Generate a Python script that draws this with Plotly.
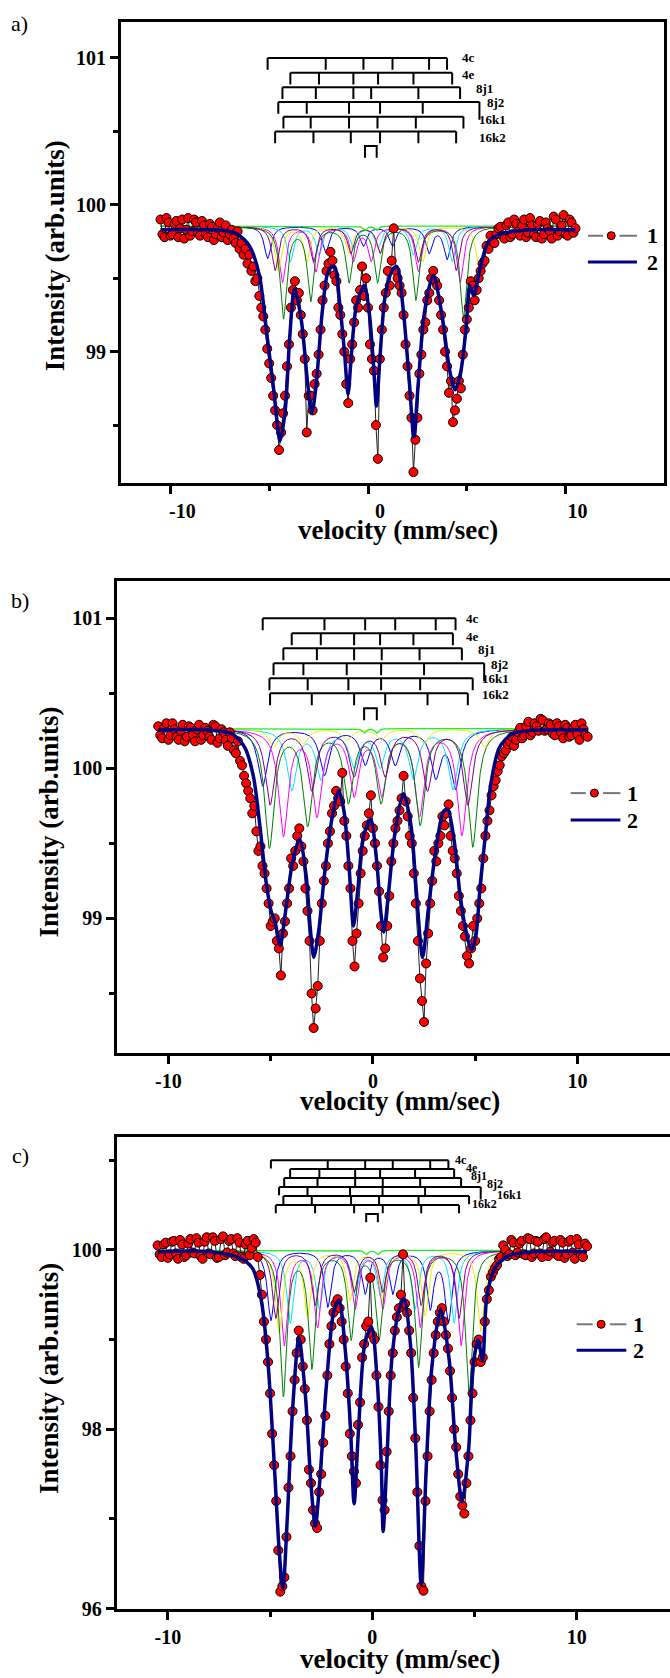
import numpy as np
import plotly.graph_objects as go

# ---------------- data ----------------
# channel velocities, mm/s: even channels at -10.5,-10.3,...,10.5 ; odd channels at -10.4,...,10.4
V_CHANNELS = np.round(np.linspace(-10.5, 10.5, 211), 2)

DATA_A_EVEN = [99.90, 99.78, 99.88, 99.80, 99.89, 99.84, 99.77, 99.91, 99.82, 99.88,
               99.79, 99.86, 99.78, 99.85, 99.80, 99.88, 99.81, 99.76, 99.83, 99.74,
               99.70, 99.66, 99.60, 99.55, 99.48, 99.38, 99.24, 99.02, 98.82, 98.60,
               98.33, 98.58, 98.90, 99.30, 99.48, 99.40, 99.12, 98.45, 98.70, 98.78,
               98.98, 99.35, 99.55, 99.68, 99.52, 99.30, 99.12, 98.78, 98.95, 99.20,
               99.30, 99.58, 99.50, 99.05, 98.87, 98.27, 99.15, 99.40, 99.45, 99.84,
               99.50, 99.40, 99.05, 98.70, 98.18, 98.55, 98.98, 99.20, 99.40, 99.55,
               99.45, 99.25, 99.00, 98.72, 98.52, 98.68, 98.75, 99.15, 99.30, 99.45,
               99.42, 99.55, 99.62, 99.70, 99.75, 99.80, 99.85, 99.77, 99.88, 99.80,
               99.87, 99.79, 99.90, 99.81, 99.86, 99.78, 99.89, 99.80, 99.84, 99.77,
               99.90, 99.82, 99.93, 99.79, 99.88, 99.84]
DATA_A_ODD = [99.80, 99.91, 99.79, 99.87, 99.78, 99.90, 99.83, 99.79, 99.90, 99.81,
              99.89, 99.80, 99.87, 99.76, 99.84, 99.78, 99.86, 99.80, 99.77, 99.82,
              99.74, 99.70, 99.66, 99.58, 99.50, 99.30, 99.15, 98.92, 98.70, 98.50,
              98.45, 98.70, 99.05, 99.42, 99.35, 99.25, 98.95, 98.70, 98.60, 98.85,
              99.15, 99.45, 99.60, 99.62, 99.48, 99.25, 99.00, 98.65, 99.05, 99.35,
              99.42, 99.38, 99.30, 98.95, 98.50, 98.95, 99.30, 99.55, 99.62, 99.55,
              99.45, 99.25, 98.90, 98.55, 98.40, 98.85, 99.15, 99.35, 99.50, 99.48,
              99.35, 99.15, 98.90, 98.80, 98.60, 98.80, 98.98, 99.22, 99.48, 99.35,
              99.50, 99.60, 99.72, 99.79, 99.74, 99.84, 99.79, 99.86, 99.78, 99.90,
              99.82, 99.86, 99.78, 99.91, 99.80, 99.87, 99.77, 99.88, 99.82, 99.92,
              99.79, 99.86, 99.80, 99.90, 99.81]

DATA_B_EVEN = [100.28, 100.20, 100.30, 100.22, 100.26, 100.19, 100.29, 100.21, 100.27, 100.18,
               100.29, 100.22, 100.25, 100.19, 100.28, 100.20, 100.24, 100.15, 100.20, 100.10,
               100.05, 99.95, 99.85, 99.70, 99.58, 99.48, 99.30, 99.10, 98.98, 98.85,
               98.62, 98.98, 99.20, 99.35, 99.55, 99.48, 99.20, 98.85, 98.27, 98.55,
               99.10, 99.35, 99.58, 99.75, 99.80, 99.97, 99.55, 99.20, 98.68, 99.10,
               99.45, 99.62, 99.82, 99.50, 99.18, 98.74, 98.95, 99.38, 99.60, 99.72,
               99.95, 99.68, 99.50, 99.10, 98.60, 98.31, 98.90, 99.25, 99.38, 99.55,
               99.62, 99.76, 99.45, 99.30, 99.05, 98.88, 98.70, 98.95, 99.00, 99.20,
               99.55, 99.72, 99.88, 99.98, 100.08, 100.12, 100.18, 100.15, 100.24, 100.20,
               100.28, 100.22, 100.30, 100.25, 100.32, 100.26, 100.29, 100.22, 100.28, 100.20,
               100.27, 100.22, 100.29, 100.19, 100.26, 100.21]
DATA_B_ODD = [100.22, 100.27, 100.19, 100.30, 100.21, 100.25, 100.18, 100.28, 100.22, 100.26,
              100.19, 100.27, 100.21, 100.29, 100.17, 100.26, 100.19, 100.24, 100.12, 100.18,
              100.02, 99.90, 99.80, 99.75, 99.45, 99.35, 99.20, 98.95, 99.00, 98.80,
              98.90, 99.10, 99.40, 99.45, 99.60, 99.38, 99.05, 98.50, 98.40, 98.85,
              99.25, 99.50, 99.70, 99.85, 99.78, 99.65, 99.35, 98.85, 98.90, 99.30,
              99.55, 99.70, 99.60, 99.35, 98.95, 98.80, 99.15, 99.50, 99.65, 99.80,
              99.78, 99.55, 99.30, 98.85, 98.45, 98.70, 99.10, 99.45, 99.50, 99.68,
              99.70, 99.55, 99.40, 99.15, 98.95, 98.75, 98.80, 98.85, 99.10, 99.40,
              99.65, 99.82, 99.92, 100.02, 100.10, 100.16, 100.21, 100.19, 100.27, 100.22,
              100.31, 100.24, 100.28, 100.33, 100.25, 100.30, 100.23, 100.30, 100.24, 100.29,
              100.21, 100.27, 100.23, 100.30, 100.22]

DATA_C_EVEN = [100.05, 99.92, 100.08, 99.95, 100.10, 99.90, 100.06, 99.94, 100.12, 99.96,
               100.08, 99.90, 100.14, 99.95, 100.10, 99.92, 100.15, 99.97, 100.12, 99.93,
               100.08, 99.90, 100.10, 100.02, 100.08, 99.72, 99.20, 98.75, 97.95, 97.20,
               96.19, 96.35, 97.35, 98.20, 98.85, 99.00, 98.45, 97.55, 97.10, 96.90,
               97.50, 98.15, 98.95, 99.30, 99.45, 99.20, 98.70, 97.95, 97.53, 98.05,
               98.80, 99.15, 99.69, 99.00, 98.25, 97.21, 97.75, 98.60, 99.10, 99.35,
               99.95, 99.30, 98.85, 97.90, 96.70, 96.20, 97.70, 98.55, 99.05, 99.30,
               99.20, 98.90, 98.35, 97.80, 97.25, 97.06, 97.70, 98.40, 98.95, 98.75,
               99.20, 99.55, 99.75, 99.83, 99.92, 100.00, 99.95, 100.08, 99.97, 100.10,
               99.94, 100.12, 99.96, 100.09, 99.92, 100.14, 99.98, 100.10, 99.93, 100.08,
               99.95, 100.11, 99.90, 100.06, 99.92, 100.04]
DATA_C_ODD = [99.95, 100.06, 99.91, 100.09, 99.96, 100.11, 99.92, 100.07, 99.97, 100.13,
              99.93, 100.09, 99.96, 100.14, 99.91, 100.12, 99.94, 100.10, 99.96, 100.13,
              99.92, 100.06, 99.94, 100.12, 99.92, 99.50, 99.00, 98.40, 97.60, 96.65,
              96.25, 96.80, 97.70, 98.55, 99.10, 98.70, 98.10, 97.40, 96.95, 97.30,
              97.85, 98.60, 99.15, 99.40, 99.35, 99.00, 98.40, 97.70, 97.40, 98.30,
              98.95, 99.20, 99.05, 98.60, 97.60, 97.10, 98.20, 98.85, 99.25, 99.50,
              99.40, 99.10, 98.35, 97.30, 96.25, 97.20, 98.20, 98.85, 99.20, 99.35,
              99.05, 98.65, 98.00, 97.50, 97.15, 97.40, 98.10, 98.75, 99.00, 98.80,
              99.45, 99.70, 99.80, 99.90, 100.05, 99.93, 100.11, 99.94, 100.07, 99.95,
              100.13, 99.92, 100.10, 99.96, 100.12, 99.93, 100.08, 99.95, 100.11, 99.91,
              100.09, 99.97, 100.12, 99.94, 100.07]

FIT_A_V = [-10.5, -8.0, -7.0, -6.6, -6.0, -5.5, -5.1, -4.77, -4.45, -4.19,
           -3.96, -3.72, -3.38, -3.05, -2.84, -2.62, -2.3, -1.98, -1.7, -1.44,
           -1.18, -1.01, -0.84, -0.58, -0.19, 0.06, 0.28, 0.43, 0.6, 0.88,
           1.25, 1.46, 1.78, 2.1, 2.32, 2.54, 2.86, 3.3, 3.72, 4.15,
           4.41, 4.69, 4.97, 5.15, 5.35, 5.66, 6.1, 6.7, 8.2, 10.5]
FIT_A_Y = [99.83, 99.83, 99.82, 99.80, 99.72, 99.52, 99.10, 98.74, 98.39, 98.60,
           99.10, 99.43, 99.22, 98.78, 98.58, 98.78, 99.29, 99.56, 99.58, 99.34,
           98.98, 98.71, 98.98, 99.32, 99.45, 99.27, 98.91, 98.63, 98.95, 99.39,
           99.56, 99.58, 99.29, 98.78, 98.42, 98.78, 99.27, 99.52, 99.27, 98.86,
           98.74, 98.86, 99.17, 99.45, 99.38, 99.56, 99.75, 99.80, 99.83, 99.83]

FIT_B_V = [-10.5, -8.0, -6.9, -6.27, -5.85, -5.53, -5.22, -4.96, -4.79, -4.54,
           -4.27, -3.95, -3.59, -3.27, -3.06, -2.89, -2.64, -2.37, -2.01, -1.67,
           -1.41, -1.16, -0.95, -0.74, -0.46, -0.11, 0.17, 0.38, 0.53, 0.74,
           1.08, 1.5, 1.86, 2.13, 2.43, 2.7, 3.02, 3.44, 3.65, 3.97,
           4.25, 4.5, 4.82, 5.03, 5.24, 5.51, 5.77, 6.19, 6.82, 8.1, 10.5]
FIT_B_Y = [100.255, 100.255, 100.23, 100.14, 99.95, 99.62, 99.24, 99.04, 98.98, 98.82,
           99.05, 99.36, 99.53, 99.29, 98.93, 98.74, 98.93, 99.29, 99.66, 99.85,
           99.71, 99.33, 98.95, 99.19, 99.55, 99.66, 99.40, 99.05, 98.91, 99.14,
           99.57, 99.83, 99.62, 99.17, 98.74, 99.05, 99.40, 99.71, 99.73, 99.52,
           99.17, 98.95, 98.79, 98.88, 99.21, 99.57, 99.90, 100.14, 100.23, 100.255, 100.255]

FIT_C_V = [-10.5, -8.0, -6.48, -5.85, -5.43, -5.11, -4.79, -4.54, -4.37, -4.16,
           -3.91, -3.59, -3.27, -3.0, -2.79, -2.58, -2.26, -1.88, -1.63, -1.31,
           -1.06, -0.89, -0.68, -0.36, -0.04, 0.23, 0.44, 0.53, 0.70, 0.95,
           1.29, 1.54, 1.86, 2.13, 2.39, 2.64, 2.91, 3.34, 3.76, 4.08,
           4.39, 4.71, 4.92, 5.17, 5.39, 5.6, 5.98, 6.61, 8.09, 10.5]
FIT_C_Y = [99.98, 99.98, 99.91, 99.79, 99.44, 98.77, 97.59, 96.60, 96.23, 97.00,
           98.18, 99.02, 98.37, 97.39, 96.92, 97.39, 98.45, 99.32, 99.44, 98.85,
           97.98, 97.17, 97.98, 98.96, 99.14, 98.57, 97.59, 96.86, 97.59, 98.77,
           99.32, 99.46, 98.96, 97.78, 96.27, 97.59, 98.69, 99.34, 98.77, 97.78,
           97.19, 97.78, 98.69, 99.00, 98.77, 99.48, 99.79, 99.93, 99.98, 99.98]

SITES = ["4c", "4e", "8j1", "8j2", "16k1", "16k2"]

LINES_A = [[-5.08, -2.14, -0.23, 1.24, 3.09, 4.00],
           [-3.93, -2.48, -0.74, 0.51, 2.30, 4.26],
           [-4.33, -2.64, -0.74, 0.16, 2.55, 4.66],
           [-4.54, -3.10, -0.96, 0.61, 2.77, 5.64],
           [-4.28, -2.90, -0.96, 0.48, 2.42, 4.83],
           [-4.70, -2.76, -0.87, 0.61, 2.55, 4.46]]
LINES_B = [[-5.39, -2.37, -0.38, 1.09, 3.07, 4.04],
           [-3.97, -2.55, -0.92, 0.35, 1.98, 3.91],
           [-4.38, -2.74, -0.92, 0.43, 2.28, 4.35],
           [-4.86, -3.40, -1.28, 0.40, 2.50, 5.44],
           [-5.06, -3.19, -1.20, 0.40, 2.31, 4.88],
           [-5.03, -2.99, -0.92, 0.60, 2.67, 4.64]]
LINES_C = [[-4.96, -2.18, -0.35, 1.00, 2.83, 3.72],
           [-4.02, -2.59, -0.84, 0.38, 2.09, 4.00],
           [-4.31, -2.68, -0.84, 0.51, 2.34, 4.34],
           [-4.56, -3.17, -1.09, 0.50, 2.58, 5.30],
           [-4.35, -2.96, -1.04, 0.33, 2.26, 4.73],
           [-4.72, -2.80, -0.89, 0.51, 2.39, 4.24]]
DOUBLET_A = [-0.15, 0.44]
DOUBLET_B = [-0.43, 0.19]
DOUBLET_C = [-0.30, 0.27]

REL_INT = [1.0, 0.8, 0.6, 0.6, 0.8, 1.0]
DEPTH_A = [0.22, 0.24, 0.38, 0.30, 0.62, 0.30]
DEPTH_B = [0.38, 0.40, 0.70, 0.12, 0.78, 0.50]
DEPTH_C = [0.78, 0.80, 1.05, 0.90, 1.60, 0.75]
DOUBLET_DEPTH = [0.03, 0.03, 0.05]
HWHM = [0.20, 0.28, 0.20]
BASELINE = [99.855, 100.265, 99.995]

ROW_LEVELS = [101.0, 100.9, 100.8, 100.7, 100.6, 100.5]
DOUBLET_LEVEL = 100.4

X_TICKS = [-10, 0, 10]
X_TICK_TEXT = ["-10", "0", "10"]

# ---------------- styling / layout ----------------
W, H = 670, 1678
FONT = "Liberation Serif"
COMP_COLORS = ["#0000ff", "#00e5ff", "#ff00ff", "#eeee00", "#008000", "#800080"]
DOUBLET_COLOR = "#22ee22"
FIT_COLOR = "#000080"


def px_x(p):
    return p / W


def px_y(p):
    return 1 - p / H


def interleave(even, odd):
    out = np.empty(len(even) + len(odd))
    out[0::2] = even
    out[1::2] = odd
    return out


PANELS = [
    dict(label="a)", data=interleave(DATA_A_EVEN, DATA_A_ODD), fv=FIT_A_V, fy=FIT_A_Y,
         lines=LINES_A, dbl=DOUBLET_A, depth=DEPTH_A, idx=0,
         xdom=[121 / W, 664 / W], xr=[-12.5, 14.98],
         ydom=[px_y(486), px_y(21.7)], yr=[98.107, 101.248], ydt=1, ymin=0.5, y0=99,
         tlen=0.08, lab_size=13, shift=12, ymirror=True,
         labpos=[(4.67, 101.0), (4.67, 100.89), (5.34, 100.79), (5.93, 100.70), (5.51, 100.58), (5.51, 100.46)],
         leg=dict(x0=11.13, x1=13.61, xm=12.31, xt=14.0, y1=99.79, y2=99.61),
         title_xy=(398, 534), ytitle_xy=(55, 258), plab_xy=(19.5, 24)),
    dict(label="b)", data=interleave(DATA_B_EVEN, DATA_B_ODD), fv=FIT_B_V, fy=FIT_B_Y,
         lines=LINES_B, dbl=DOUBLET_B, depth=DEPTH_B, idx=1,
         xdom=[117.3 / W, 1.0], xr=[-12.5, -12.5 + (W - 117.3) / 20.45],
         ydom=[px_y(1060), px_y(585)], yr=[98.103, 101.247], ydt=1, ymin=0.5, y0=99,
         tlen=0.08, lab_size=13, shift=0, ymirror=False,
         labpos=[(4.43, 101.0), (4.43, 100.88), (5.05, 100.79), (5.70, 100.69), (5.24, 100.60), (5.24, 100.49)],
         leg=dict(x0=9.67, x1=12.10, xm=10.83, xt=12.31, y1=99.835, y2=99.655),
         title_xy=(400, 1108), ytitle_xy=(49, 828), plab_xy=(20, 604)),
    dict(label="c)", data=interleave(DATA_C_EVEN, DATA_C_ODD), fv=FIT_C_V, fy=FIT_C_Y,
         lines=LINES_C, dbl=DOUBLET_C, depth=DEPTH_C, idx=2,
         xdom=[116.7 / W, 1.0], xr=[-12.5, -12.5 + (W - 116.7) / 20.45],
         ydom=[px_y(1619.3), px_y(1144.3)], yr=[96.0, 101.26], ydt=2, ymin=1, y0=96,
         tlen=0.092, lab_size=12, shift=0, ymirror=False,
         labpos=[(3.93, 101.0), (4.46, 100.91), (4.75, 100.82), (5.52, 100.73), (6.0, 100.61), (4.78, 100.51)],
         leg=dict(x0=9.99, x1=12.42, xm=11.19, xt=12.63, y1=99.17, y2=98.88),
         title_xy=(400, 1670), ytitle_xy=(49, 1388), plab_xy=(20, 1163)),
]

V_FINE = np.linspace(-10.5, 10.5, 2101)


def sextet(v, pos, depth, g):
    s = np.zeros_like(v)
    for p, r in zip(pos, REL_INT):
        s += depth * r * g ** 2 / ((v - p) ** 2 + g ** 2)
    return s


fig = go.Figure()
annotations = []
layout_axes = {}

for P in PANELS:
    i = P["idx"]
    sfx = "" if i == 0 else str(i + 1)
    xa, ya = "x" + sfx, "y" + sfx
    base = BASELINE[i]
    g = HWHM[i]

    # component subspectra
    for c, (pos, dep) in enumerate(zip(P["lines"], P["depth"])):
        fig.add_trace(go.Scatter(x=V_FINE, y=base - sextet(V_FINE, pos, dep, g), mode="lines",
                                 line=dict(color=COMP_COLORS[c], width=1), xaxis=xa, yaxis=ya,
                                 hoverinfo="skip"))
    dbl = np.zeros_like(V_FINE)
    for p in P["dbl"]:
        dbl += DOUBLET_DEPTH[i] * 0.1 ** 2 / ((V_FINE - p) ** 2 + 0.1 ** 2)
    fig.add_trace(go.Scatter(x=V_FINE, y=base - dbl, mode="lines",
                             line=dict(color=DOUBLET_COLOR, width=1.3), xaxis=xa, yaxis=ya,
                             hoverinfo="skip"))

    # experimental points
    fig.add_trace(go.Scatter(x=V_CHANNELS, y=P["data"], mode="lines+markers",
                             line=dict(color="#222222", width=1),
                             marker=dict(symbol="circle", size=9, color="#ff0000",
                                         line=dict(color="black", width=1)),
                             xaxis=xa, yaxis=ya))
    # fit
    fig.add_trace(go.Scatter(x=P["fv"], y=P["fy"], mode="lines",
                             line=dict(color=FIT_COLOR, width=3.5, shape="spline", smoothing=0.8),
                             xaxis=xa, yaxis=ya))

    # stick diagrams
    xs, ys = [], []
    for r, pos in enumerate(P["lines"]):
        lvl = ROW_LEVELS[r]
        xs += [pos[0], pos[-1], None]
        ys += [lvl, lvl, None]
        for j, p in enumerate(pos):
            L = P["tlen"] * (1.5 if (SITES[r] == "8j2" and j == len(pos) - 1) else 1.0)
            xs += [p, p, None]
            ys += [lvl, lvl - L, None]
    d0, d1 = P["dbl"]
    xs += [d0, d0, d1, d1, None]
    ys += [DOUBLET_LEVEL - P["tlen"], DOUBLET_LEVEL, DOUBLET_LEVEL, DOUBLET_LEVEL - P["tlen"], None]
    fig.add_trace(go.Scatter(x=xs, y=ys, mode="lines", line=dict(color="black", width=2),
                             xaxis=xa, yaxis=ya, hoverinfo="skip"))
    for r, (lx, ly) in enumerate(P["labpos"]):
        annotations.append(dict(x=lx, y=ly, xref=xa, yref=ya, text="<b>%s</b>" % SITES[r],
                                showarrow=False, xanchor="left", yanchor="middle",
                                font=dict(family=FONT, size=P["lab_size"], color="black")))

    # legend (drawn by hand)
    lg = P["leg"]
    gap = 0.42
    fig.add_trace(go.Scatter(x=[lg["x0"], lg["xm"] - gap, None, lg["xm"] + gap, lg["x1"]],
                             y=[lg["y1"], lg["y1"], None, lg["y1"], lg["y1"]], mode="lines",
                             line=dict(color="#777777", width=2), xaxis=xa, yaxis=ya,
                             hoverinfo="skip"))
    fig.add_trace(go.Scatter(x=[lg["xm"]], y=[lg["y1"]], mode="markers",
                             marker=dict(size=8, color="#ff0000", line=dict(color="black", width=1)),
                             xaxis=xa, yaxis=ya, hoverinfo="skip"))
    fig.add_trace(go.Scatter(x=[lg["x0"], lg["x1"]], y=[lg["y2"], lg["y2"]], mode="lines",
                             line=dict(color=FIT_COLOR, width=3), xaxis=xa, yaxis=ya,
                             hoverinfo="skip"))
    for txt, yy in (("1", lg["y1"]), ("2", lg["y2"])):
        annotations.append(dict(x=lg["xt"], y=yy, xref=xa, yref=ya, text="<b>%s</b>" % txt,
                                showarrow=False, xanchor="left", yanchor="middle",
                                font=dict(family=FONT, size=22, color="black")))

    # titles and panel letter
    tx, ty = P["title_xy"]
    annotations.append(dict(x=px_x(tx), y=px_y(ty), xref="paper", yref="paper",
                            text="<b>velocity (mm/sec)</b>", showarrow=False,
                            xanchor="center", yanchor="middle",
                            font=dict(family=FONT, size=27, color="black")))
    yx, yy = P["ytitle_xy"]
    annotations.append(dict(x=px_x(yx), y=px_y(yy), xref="paper", yref="paper",
                            text="<b>Intensity (arb.units)</b>", showarrow=False, textangle=-90,
                            xanchor="center", yanchor="middle",
                            font=dict(family=FONT, size=27, color="black")))
    lx, ly = P["plab_xy"]
    annotations.append(dict(x=px_x(lx), y=px_y(ly), xref="paper", yref="paper",
                            text=P["label"], showarrow=False, xanchor="center", yanchor="middle",
                            font=dict(family=FONT, size=22, color="black")))

    tickfont = dict(family=FONT, size=20, color="black", weight="bold")
    xkey = "xaxis" + sfx
    ykey = "yaxis" + sfx
    layout_axes[xkey] = dict(domain=P["xdom"], range=P["xr"], anchor=ya, showline=True, linewidth=3,
                             linecolor="black", mirror=True, ticks="outside", ticklen=8, tickwidth=3,
                             tickcolor="black", tickmode="array", tickvals=X_TICKS,
                             ticktext=X_TICK_TEXT,
                             showgrid=False, zeroline=False, tickfont=tickfont,
                             ticklabelshift=P["shift"],
                             minor=dict(ticks="outside", ticklen=5, tickwidth=2.5, tickcolor="black",
                                        tickmode="linear", dtick=5, tick0=0, showgrid=False))
    layout_axes[ykey] = dict(domain=P["ydom"], range=P["yr"], anchor=xa, showline=True, linewidth=3,
                             linecolor="black", mirror=P["ymirror"], ticks="outside", ticklen=8,
                             tickwidth=3, tickcolor="black", tickmode="linear", tick0=P["y0"],
                             dtick=P["ydt"], showgrid=False, zeroline=False, tickfont=tickfont,
                             minor=dict(ticks="outside", ticklen=5, tickwidth=2.5, tickcolor="black",
                                        dtick=P["ymin"], tick0=P["y0"], showgrid=False))

fig.update_layout(width=W, height=H, margin=dict(l=0, r=0, t=0, b=0),
                  paper_bgcolor="white", plot_bgcolor="white", showlegend=False,
                  font=dict(family=FONT, color="black"),
                  annotations=annotations, **layout_axes)

fig.write_html("out.html")
